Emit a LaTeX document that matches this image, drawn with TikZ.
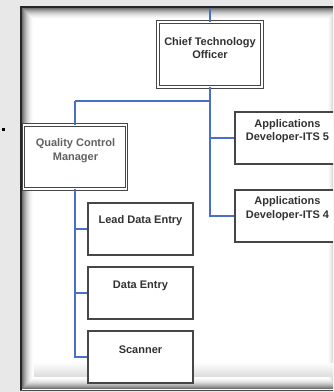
\documentclass[tikz,border=0pt]{standalone}
\usepackage{fontspec}
\setmainfont{Liberation Sans}
\definecolor{conn}{RGB}{72,112,200}
\definecolor{txtc}{RGB}{50,50,50}
\definecolor{boxc}{RGB}{70,70,70}
\begin{document}
\begin{tikzpicture}[x=1pt,y=-1pt,
  box/.style={draw=boxc, line width=1.2pt, fill=white, minimum width=105pt, minimum height=52pt, inner sep=0pt},
  dbox/.style={draw=boxc, double=white, double distance=1.6pt, line width=0.9pt, fill=white, inner sep=0pt},
  txt/.style={font=\bfseries\fontsize{11}{13.5}\selectfont, text=txtc, align=center, inner sep=0pt},
  link/.style={draw=conn, line width=2pt}
]
\useasboundingbox (0,0) rectangle (333,392);
\fill[black!9] (0,0) rectangle (333,392);
\begin{scope}
\clip (0,0) rectangle (333,392);
% frame with inner shadow
\fill[white] (20,6) rectangle (345,391);
\foreach \i in {1,...,12}{
  \pgfmathsetmacro\shd{65*(1-\i/13)^2}
  \draw[black!\shd, line width=1pt] (21.5+\i,7.5+\i) rectangle (339.5-\i,389.5-\i);
}
\foreach \i in {13,...,26}{
  \pgfmathsetmacro\shd{14*(1-(\i-12)/15)}
  \draw[black!\shd, line width=1pt] (33.5,389.5-\i) -- (340,389.5-\i);
}
\draw[black!85, line width=2pt] (21,6) -- (21,391);
\draw[black!85, line width=1.6pt] (20,6.8) -- (345,6.8);
\draw[black!70, line width=1.4pt] (20,390.3) -- (345,390.3);
\fill[black] (2,128) rectangle (4.5,130.5);

% boxes
\node[dbox, minimum width=104pt, minimum height=65pt] (cto) at (210,54.5) {};
\node[txt] (ctot) at (210,48) {Chief Technology\\Officer};
\node[box] (its5) at (287.5,138) {};
\node[txt] (its5t) at (287.5,131) {Applications\\Developer-ITS 5};
\node[box] (its4) at (287.5,216) {};
\node[txt] (its4t) at (287.5,208.5) {Applications\\Developer-ITS 4};
\node[dbox, minimum width=103pt, minimum height=64pt] (qcm) at (75,157) {};
\node[txt, text=black!62] (qcmt) at (75.5,150.5) {Quality Control\\Manager};
\node[box] (lde) at (140.5,229) {};
\node[txt] (ldet) at (140.5,221) {Lead Data Entry};
\node[box] (de) at (140.5,293) {};
\node[txt] (det) at (140.5,286) {Data Entry};
\node[box] (scan) at (140.5,357) {};
\node[txt] (scant) at (140.5,350) {Scanner};

% connectors
\coordinate (top) at (210,7.5);
\coordinate (jn) at (210,101);
\coordinate (jq) at (75,101);
\draw[link] (top) -- (cto.north);
\draw[link] (cto.south) |- (its5.west);
\draw[link] (cto.south) |- (its4.west);
\draw[link] (jn) -- (jq);
\draw[link] (jq) -- (qcm.north);
\draw[link] (qcm.south) |- (lde.west);
\draw[link] (qcm.south) |- (de.west);
\draw[link] (qcm.south) |- (scan.west);
\end{scope}
\end{tikzpicture}
\end{document}
